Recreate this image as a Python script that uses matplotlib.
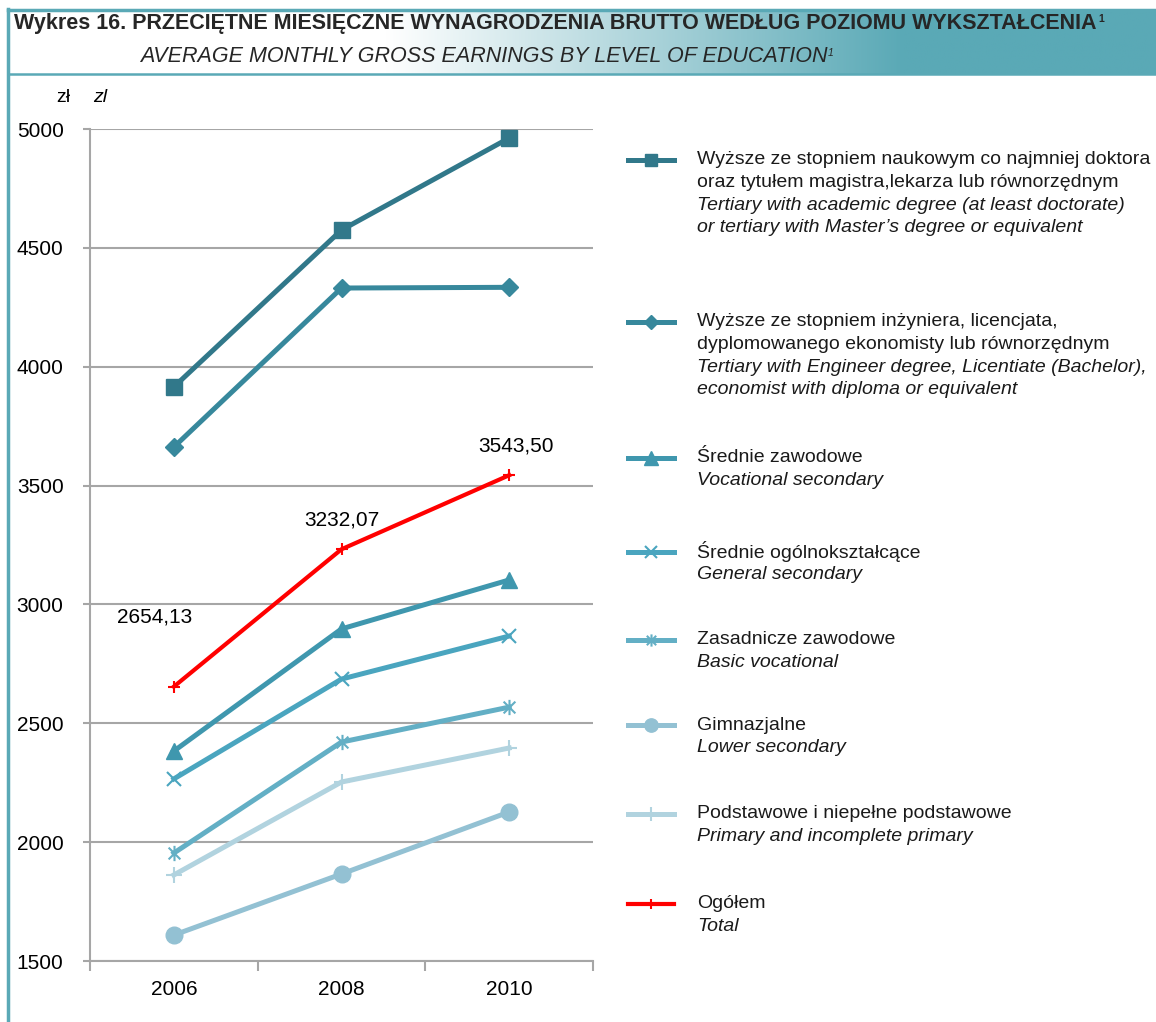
import numpy as np
import matplotlib
matplotlib.use("Agg")
from matplotlib import pyplot as plt
from matplotlib import font_manager
from matplotlib.lines import Line2D
from matplotlib.path import Path

names = {f.name for f in font_manager.fontManager.ttflist}
NARROW = 'Liberation Sans Narrow' if 'Liberation Sans Narrow' in names else 'Liberation Sans'
plt.rcParams['font.family'] = [NARROW, 'DejaVu Sans']

years = ['2006', '2008', '2010']
doktor = [3915, 4575, 4962]
inzynier = [3662, 4331, 4334]
sr_zawodowe = [2383, 2897, 3103]
sr_ogolne = [2266, 2686, 2867]
zasadnicze = [1954, 2421, 2568]
gimnazjalne = [1609, 1866, 2127]
podstawowe = [1862, 2253, 2396]
ogolem = [2654.13, 3232.07, 3543.50]
ogolem_labels = ['2654,13', '3232,07', '3543,50']

legend_pl = [
    ['Wyższe ze stopniem naukowym co najmniej doktora', 'oraz tytułem magistra,lekarza lub równorzędnym'],
    ['Wyższe ze stopniem inżyniera, licencjata,', 'dyplomowanego ekonomisty lub równorzędnym'],
    ['Średnie zawodowe'],
    ['Średnie ogólnokształcące'],
    ['Zasadnicze zawodowe'],
    ['Gimnazjalne'],
    ['Podstawowe i niepełne podstawowe'],
    ['Ogółem'],
]
legend_en = [
    ['Tertiary with academic degree (at least doctorate)', 'or tertiary with Master’s degree or equivalent'],
    ['Tertiary with Engineer degree, Licentiate (Bachelor),', 'economist with diploma or equivalent'],
    ['Vocational secondary'],
    ['General secondary'],
    ['Basic vocational'],
    ['Lower secondary'],
    ['Primary and incomplete primary'],
    ['Total'],
]

# asterisk marker: x plus a vertical bar
star = Path([(-1, -1), (1, 1), (-1, 1), (1, -1), (0, -1.3), (0, 1.3)],
            [Path.MOVETO, Path.LINETO, Path.MOVETO, Path.LINETO, Path.MOVETO, Path.LINETO])

series = [
    (doktor, dict(color='#31788A', marker='s', ms=11, lw=3.6)),
    (inzynier, dict(color='#37889C', marker='D', ms=9, lw=3.6)),
    (sr_zawodowe, dict(color='#3F97AE', marker='^', ms=12, lw=3.6)),
    (sr_ogolne, dict(color='#4AA5BF', marker='x', ms=10, mew=1.5, lw=3.6)),
    (zasadnicze, dict(color='#63AFC5', marker=star, ms=11, mew=1.5, lw=3.6)),
    (gimnazjalne, dict(color='#93C1D3', marker='o', ms=12, lw=3.6)),
    (podstawowe, dict(color='#B1D3DF', marker='+', ms=12, mew=1.5, lw=3.6)),
    (ogolem, dict(color='#FF0000', marker='+', ms=9, mew=1.5, lw=3.0)),
]

fig = plt.figure(figsize=(11.56, 10.22), dpi=100)

# frame / title band drawn in pixel coordinates
bg = fig.add_axes([0, 0, 1, 1])
bg.set_xlim(0, 1156)
bg.set_ylim(1022, 0)
bg.axis('off')
teal = '#5AA9B6'
grad = np.clip((np.linspace(0, 1, 600) - 0.33) / 0.45, 0, 1)
rgb = np.array(matplotlib.colors.to_rgb(teal))
img = (1 - grad)[:, None] * np.ones(3) + grad[:, None] * rgb
bg.imshow(img[None, :, :], extent=[8, 1156, 74, 10], aspect='auto', zorder=0)
bg.plot([8, 1156], [10, 10], color=teal, lw=2.5)
bg.plot([8, 8], [9, 1022], color=teal, lw=2.5)
bg.plot([8, 1156], [74, 74], color=teal, lw=1.8)

t1 = bg.text(14, 23, 'Wykres 16. PRZECIĘTNE MIESIĘCZNE WYNAGRODZENIA BRUTTO WEDŁUG POZIOMU WYKSZTAŁCENIA',
             fontsize=15.5, fontweight='bold', color='#262626', va='center', ha='left')
bg.annotate('1', xy=(1, 1), xycoords=t1, xytext=(1, -1), textcoords='offset points',
            fontsize=7.5, fontweight='bold', color='#262626', va='top', ha='left')
t2 = bg.text(140, 57, 'AVERAGE MONTHLY GROSS EARNINGS BY LEVEL OF EDUCATION',
             fontsize=15.5, style='italic', color='#262626', va='center', ha='left')
bg.annotate('1', xy=(1, 1), xycoords=t2, xytext=(0, -1), textcoords='offset points',
            fontsize=7.5, style='italic', color='#262626', va='top', ha='left')
bg.text(56, 97, 'zł', fontsize=14, va='center', ha='left')
bg.text(93, 97, 'zl', fontsize=14, style='italic', va='center', ha='left')

# legend, drawn by hand
y_entries = [160, 322, 458, 552, 640, 725, 814, 904]
for (vals, st), y0, pl, en in zip(series, y_entries, legend_pl, legend_en):
    kw = dict(st)
    kw['ms'] = kw['ms'] * 0.8
    bg.add_line(Line2D([628, 651, 674], [y0, y0, y0], markevery=[1], **kw))
    lines = [(t, 'normal') for t in pl] + [(t, 'italic') for t in en]
    for i, (t, s) in enumerate(lines):
        bg.text(697, y0 + i * 22.5, t, fontsize=14, family='Liberation Sans',
                style=s, color='#1a1a1a', va='center', ha='left')

# chart
ax = fig.add_axes([90 / 1156, 1 - 961 / 1022, 503 / 1156, 832 / 1022])
x = np.arange(len(years))
for vals, st in series:
    ax.plot(x, vals, **st, zorder=3)

offsets = [(-14, 43), (0, 14), (5, 14)]
for xi, v, lab, off in zip(x, ogolem, ogolem_labels, offsets):
    ax.annotate(lab, (xi, v), xytext=off, textcoords='offset points',
                ha='center', va='bottom', fontsize=15)

ax.set_xlim(-0.5, 2.5)
ax.set_ylim(1500, 5000)
ax.set_yticks(np.arange(1500, 5001, 500))
ax.set_xticks(x)
ax.set_xticklabels(years)
ax.set_xticks([-0.5, 0.5, 1.5, 2.5], minor=True)
ax.tick_params(axis='x', which='major', length=0, labelsize=15, pad=14)
ax.tick_params(axis='x', which='minor', length=7, width=1.5, color='#A6A6A6')
ax.tick_params(axis='y', length=5, width=1.5, color='#A6A6A6', labelsize=15, pad=14)
ax.grid(axis='y', color='#A6A6A6', lw=1.5)
ax.set_axisbelow(True)
for s in ['top', 'right']:
    ax.spines[s].set_visible(False)
for s in ['left', 'bottom']:
    ax.spines[s].set_color('#A6A6A6')
    ax.spines[s].set_linewidth(1.5)

fig.savefig('out.png', dpi=100)
